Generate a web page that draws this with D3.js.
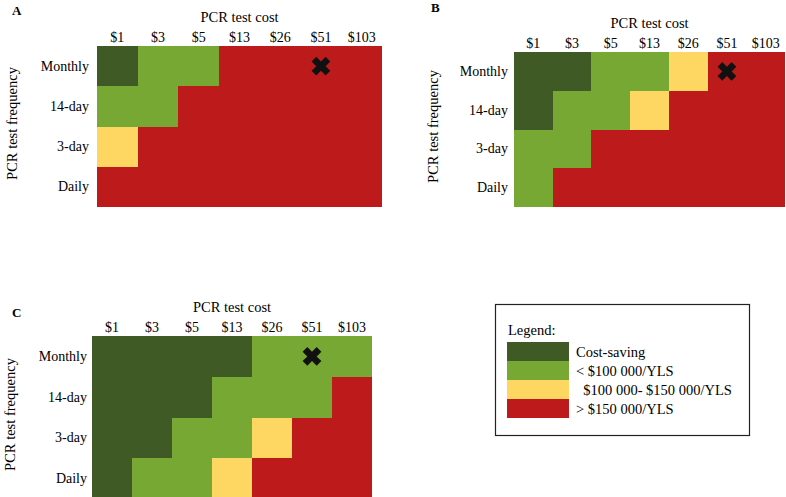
<!DOCTYPE html>
<html>
<head>
<meta charset="utf-8">
<script src="https://cdn.jsdelivr.net/npm/d3@7"></script>
<style>
  body { margin: 0; background: #fff; }
  text { font-family: "Liberation Serif", "DejaVu Serif", serif; fill: #000; }
</style>
</head>
<body>
<div class="responsive-svg-container"></div>
<script>
const costs = ["$1", "$3", "$5", "$13", "$26", "$51", "$103"];
const freqs = ["Monthly", "14-day", "3-day", "Daily"];

// 0 cost-saving, 1 < $100 000, 2 $100 000-$150 000, 3 > $150 000
const panelA = [
  [0, 1, 1, 3, 3, 3, 3],
  [1, 1, 3, 3, 3, 3, 3],
  [2, 3, 3, 3, 3, 3, 3],
  [3, 3, 3, 3, 3, 3, 3]
];
const panelB = [
  [0, 0, 1, 1, 2, 3, 3],
  [0, 1, 1, 2, 3, 3, 3],
  [1, 1, 3, 3, 3, 3, 3],
  [1, 3, 3, 3, 3, 3, 3]
];
const panelC = [
  [0, 0, 0, 0, 1, 1, 1],
  [0, 0, 0, 1, 1, 1, 3],
  [0, 0, 1, 1, 2, 3, 3],
  [0, 1, 1, 2, 3, 3, 3]
];
const baseCase = { cost: "$51", freq: "Monthly" };

const legendLabels = ["Cost-saving", "< $100 000/YLS", "  $100 000- $150 000/YLS", "> $150 000/YLS"];
const colors = ["#3f5a25", "#77a833", "#fdd762", "#bd1b1b"];

const svg = d3.select(".responsive-svg-container")
  .append("svg")
  .attr("width", 786)
  .attr("height", 497);

const color = d3.scaleOrdinal().domain([0, 1, 2, 3]).range(colors);

const drawPanel = (grid, p) => {
  const x = d3.scaleBand().domain(costs).range([p.x0, p.x1]);
  const y = d3.scaleBand().domain(freqs).range([p.y0, p.y1]);

  const cells = [];
  grid.forEach((row, i) => row.forEach((v, j) => cells.push({ freq: freqs[i], cost: costs[j], v })));

  const g = svg.append("g");

  g.selectAll("rect")
    .data(cells)
    .join("rect")
    .attr("x", d => x(d.cost))
    .attr("y", d => y(d.freq))
    .attr("width", d => x.bandwidth() + (d.cost === costs[costs.length - 1] ? 0 : 1))
    .attr("height", d => y.bandwidth() + (d.freq === freqs[freqs.length - 1] ? 0 : 1))
    .attr("fill", d => color(d.v))
    .attr("shape-rendering", "crispEdges");

  g.append("path")
    .attr("d", d3.symbol(d3.symbolCross, 220)())
    .attr("transform", `translate(${x(baseCase.cost) + x.bandwidth() / 2}, ${y(baseCase.freq) + y.bandwidth() / 2}) rotate(45)`)
    .attr("fill", "#111");

  const xAxis = g.append("g")
    .attr("transform", `translate(0, ${p.y0})`)
    .call(d3.axisTop(x).tickSize(0).tickPadding(4));
  xAxis.select(".domain").remove();
  xAxis.selectAll("text")
    .style("font-family", "Liberation Serif")
    .style("font-size", "14px");

  const yAxis = g.append("g")
    .attr("transform", `translate(${p.x0}, 0)`)
    .call(d3.axisLeft(y).tickSize(0).tickPadding(p.rowPad));
  yAxis.select(".domain").remove();
  yAxis.selectAll("text")
    .style("font-family", "Liberation Serif")
    .style("font-size", "14px");

  g.append("text")
    .text("PCR test cost")
    .attr("x", (p.x0 + p.x1) / 2)
    .attr("y", p.y0 - 24)
    .attr("text-anchor", "middle")
    .style("font-size", "14.5px");

  g.append("text")
    .text("PCR test frequency")
    .attr("transform", `translate(${p.titleX}, ${(p.y0 + p.y1) / 2 - 3}) rotate(-90)`)
    .attr("text-anchor", "middle")
    .style("font-size", "14.5px");

  g.append("text")
    .text(p.letter)
    .attr("x", p.lx)
    .attr("y", p.ly)
    .style("font-size", "13px")
    .style("font-weight", "bold");
};

drawPanel(panelA, { x0: 97, x1: 382, y0: 46, y1: 207, rowPad: 8, titleX: 17, letter: "A", lx: 12, ly: 15 });
drawPanel(panelB, { x0: 514, x1: 785, y0: 52, y1: 207, rowPad: 6, titleX: 438, letter: "B", lx: 431, ly: 12 });
drawPanel(panelC, { x0: 92, x1: 372, y0: 336, y1: 499, rowPad: 5, titleX: 15, letter: "C", lx: 12, ly: 317 });

// legend
const legend = svg.append("g");
legend.append("rect")
  .attr("x", 495.5)
  .attr("y", 304.5)
  .attr("width", 254)
  .attr("height", 131)
  .attr("fill", "none")
  .attr("stroke", "#222")
  .attr("stroke-width", 1.2);

legend.append("text")
  .text("Legend:")
  .attr("x", 508)
  .attr("y", 335)
  .style("font-size", "14.5px");

const ly = d3.scaleBand().domain(d3.range(legendLabels.length)).range([342, 418]);

legend.selectAll(".sw")
  .data(legendLabels)
  .join("rect")
  .attr("class", "sw")
  .attr("x", 507)
  .attr("y", (d, i) => ly(i))
  .attr("width", 62)
  .attr("height", (d, i) => ly.bandwidth() + (i < legendLabels.length - 1 ? 1 : 0))
  .attr("fill", (d, i) => colors[i])
  .attr("shape-rendering", "crispEdges");

legend.selectAll(".lb")
  .data(legendLabels)
  .join("text")
  .attr("class", "lb")
  .text(d => d)
  .attr("x", 576)
  .attr("y", (d, i) => ly(i) + ly.bandwidth() / 2 + 5)
  .attr("xml:space", "preserve")
  .style("white-space", "pre")
  .style("font-size", "14.5px");
</script>
</body>
</html>
